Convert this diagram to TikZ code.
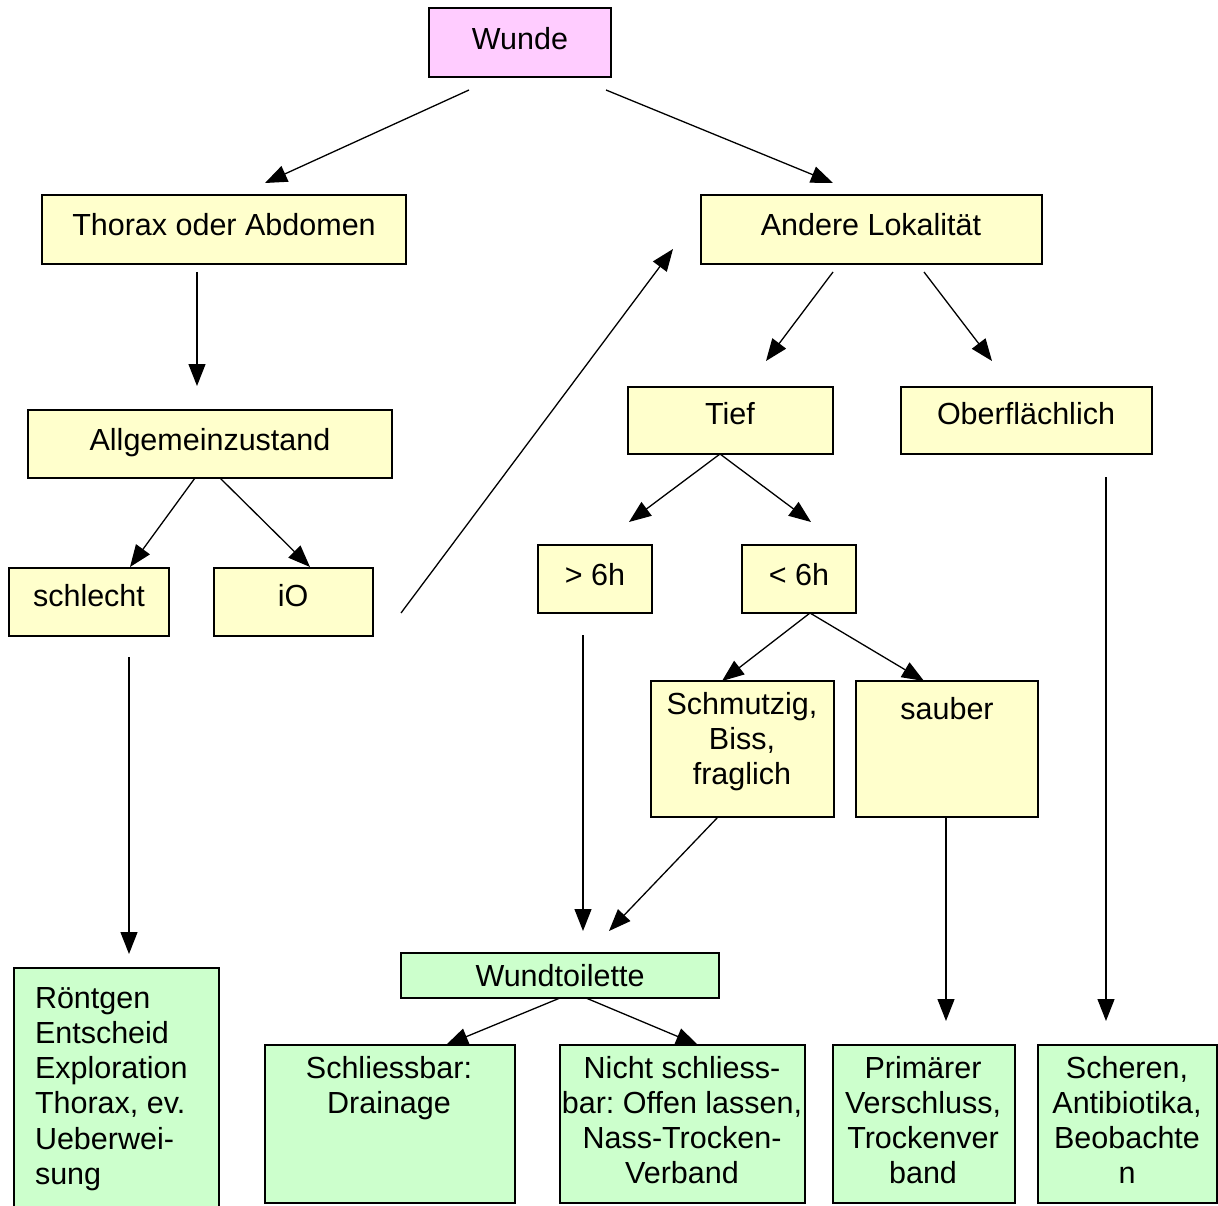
\documentclass[tikz,border=0pt]{standalone}
\usepackage{fontspec}
\setmainfont{Liberation Sans}
\usetikzlibrary{arrows.meta}
\definecolor{yel}{HTML}{FFFFCC}
\definecolor{grn}{HTML}{CCFFCC}
\definecolor{pnk}{HTML}{FFCCFF}
\newcommand\dfont{\fontsize{30.5}{35.3}\selectfont\frenchspacing}
\tikzset{
  box/.style={draw=black, line width=1.5pt, inner sep=0pt, outer sep=0pt, anchor=north west},
  ybox/.style={box, fill=yel},
  gbox/.style={box, fill=grn},
  pbox/.style={box, fill=pnk},
  txt/.style={inner sep=0pt, outer sep=0pt, anchor=north, align=center, font=\dfont},
  ltxt/.style={inner sep=0pt, outer sep=0pt, anchor=north west, align=left, font=\dfont},
  arr/.style={-{Triangle[length=22pt,width=17pt]}, line width=1.3pt}
}
\begin{document}
\begin{tikzpicture}[x=1pt,y=-1pt]
\fill[white] (0,0) rectangle (1218,1206);
\useasboundingbox (0,0) rectangle (1218,1206);

% boxes
\node[pbox, minimum width=182, minimum height=69] (wunde) at (429,8) {};
\node[ybox, minimum width=364, minimum height=69] (thorax) at (42,195) {};
\node[ybox, minimum width=341, minimum height=69] (andere) at (701,195) {};
\node[ybox, minimum width=364, minimum height=68] (allg) at (28,410) {};
\node[ybox, minimum width=160, minimum height=68] (schlecht) at (9,568) {};
\node[ybox, minimum width=159, minimum height=68] (io) at (214,568) {};
\node[ybox, minimum width=205, minimum height=67] (tief) at (628,387) {};
\node[ybox, minimum width=251, minimum height=67] (ober) at (901,387) {};
\node[ybox, minimum width=114, minimum height=68] (gt6) at (538,545) {};
\node[ybox, minimum width=114, minimum height=68] (lt6) at (742,545) {};
\node[ybox, minimum width=183, minimum height=136] (schmutz) at (651,681) {};
\node[ybox, minimum width=182, minimum height=136] (sauber) at (856,681) {};
\node[gbox, minimum width=318, minimum height=45] (wundt) at (401,953) {};
\node[gbox, minimum width=205, minimum height=250] (roentgen) at (14,968) {};
\node[gbox, minimum width=250, minimum height=158] (schliess) at (265,1045) {};
\node[gbox, minimum width=245, minimum height=158] (nicht) at (560,1045) {};
\node[gbox, minimum width=182, minimum height=158] (primaer) at (833,1045) {};
\node[gbox, minimum width=179, minimum height=158] (scheren) at (1038,1045) {};

% texts
\node[txt] (wundeT) at (520,24.3) {\strut Wunde};
\node[txt] (thoraxT) at (224,210.3) {\strut Thorax oder Abdomen};
\node[txt] (andereT) at (871,210.3) {\strut Andere Lokalität};
\node[txt] (allgT) at (210,425.3) {\strut Allgemeinzustand};
\node[txt] (schlechtT) at (89,581.3) {\strut schlecht};
\node[txt] (ioT) at (293,581.3) {\strut iO};
\node[txt] (tiefT) at (730,399.3) {\strut Tief};
\node[txt] (oberT) at (1026,399.3) {\strut Oberflächlich};
\node[txt] (gt6T) at (595,560.3) {\strut > 6h};
\node[txt] (lt6T) at (799,560.3) {\strut < 6h};
\node[txt] (schmutzT) at (742,689.3) {\strut Schmutzig,\\Biss,\\fraglich};
\node[txt] (sauberT) at (947,694.3) {\strut sauber};
\node[txt] (wundtT) at (560,961.3) {\strut Wundtoilette};
\node[ltxt] (roentgenT) at (35,983.3) {\strut Röntgen\\Entscheid\\Exploration\\Thorax, ev.\\Ueberwei-\\sung};
\node[txt] (schliessT) at (389,1053.3) {\strut Schliessbar:\\Drainage};
\node[txt] (nichtT) at (682,1053.3) {\strut Nicht schliess-\\bar: Offen lassen,\\Nass-Trocken-\\Verband};
\node[txt] (primaerT) at (923,1053.3) {\strut Primärer\\Verschluss,\\Trockenver\\band};
\node[txt] (scherenT) at (1127,1053.3) {\strut Scheren,\\Antibiotika,\\Beobachte\\n};

% connector end points
\coordinate (c1a) at (469,90);   \coordinate (c1b) at (265,183);
\coordinate (c2a) at (606,90);   \coordinate (c2b) at (833,183);
\coordinate (c3a) at (197,272);  \coordinate (c3b) at (197,386);
\coordinate (c4a) at (195,478);  \coordinate (c4b) at (130,567);
\coordinate (c5a) at (220,478);  \coordinate (c5b) at (310,567);
\coordinate (c6a) at (401,613);  \coordinate (c6b) at (673,249);
\coordinate (c7a) at (833,272);  \coordinate (c7b) at (766,361);
\coordinate (c8a) at (924,272);  \coordinate (c8b) at (992,361);
\coordinate (c9a) at (720,454);  \coordinate (c9b) at (629,522);
\coordinate (c10b) at (811,522);
\coordinate (c11a) at (583,635); \coordinate (c11b) at (583,931);
\coordinate (c12a) at (810,613); \coordinate (c12b) at (722,681);
\coordinate (c13b) at (924,681);
\coordinate (c14a) at (718,817); \coordinate (c14b) at (609,931);
\coordinate (c15a) at (129,657); \coordinate (c15b) at (129,954);
\coordinate (c16a) at (946,817); \coordinate (c16b) at (946,1021);
\coordinate (c17a) at (1106,477); \coordinate (c17b) at (1106,1021);
\coordinate (c18a) at (560,998); \coordinate (c18b) at (446,1045);
\coordinate (c19a) at (586,998); \coordinate (c19b) at (698,1045);

% connectors
\draw[arr] (c1a) -- (c1b);
\draw[arr] (c2a) -- (c2b);
\draw[arr] (c3a) -- (c3b);
\draw[arr] (c4a) -- (c4b);
\draw[arr] (c5a) -- (c5b);
\draw[arr] (c6a) -- (c6b);
\draw[arr] (c7a) -- (c7b);
\draw[arr] (c8a) -- (c8b);
\draw[arr] (c9a) -- (c9b);
\draw[arr] (c9a) -- (c10b);
\draw[arr] (c11a) -- (c11b);
\draw[arr] (c12a) -- (c12b);
\draw[arr] (c12a) -- (c13b);
\draw[arr] (c14a) -- (c14b);
\draw[arr] (c15a) -- (c15b);
\draw[arr] (c16a) -- (c16b);
\draw[arr] (c17a) -- (c17b);
\draw[arr] (c18a) -- (c18b);
\draw[arr] (c19a) -- (c19b);
\end{tikzpicture}
\end{document}
